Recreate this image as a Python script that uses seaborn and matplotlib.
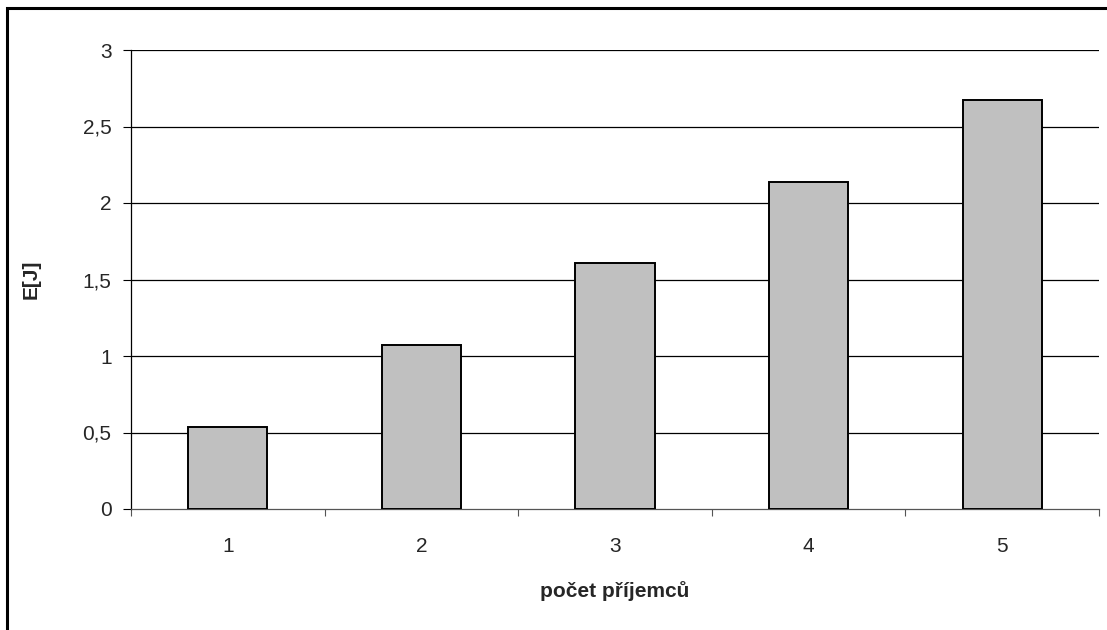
import matplotlib
matplotlib.use("Agg")
import matplotlib.pyplot as plt
import seaborn as sns
import pandas as pd
from matplotlib.patches import Rectangle

categories = ["1", "2", "3", "4", "5"]
energy = [0.535, 1.07, 1.605, 2.14, 2.675]
y_ticks = [0, 0.5, 1, 1.5, 2, 2.5, 3]
y_tick_labels = ["0", "0,5", "1", "1,5", "2", "2,5", "3"]

sns.set_theme(style="white")
plt.rcParams['font.family'] = ['Liberation Sans', 'DejaVu Sans']

df = pd.DataFrame({"pocet": categories, "E": energy})

fig = plt.figure(figsize=(11.07, 6.30), dpi=100)
ax = fig.add_axes([131/1107, 1-509/630, (1099-131)/1107, (509-50)/630])

sns.barplot(data=df, x="pocet", y="E", order=categories, color="#C0C0C0",
            saturation=1, width=0.41, edgecolor="black", linewidth=1.4, ax=ax, zorder=3)

ax.set_xlim(-0.5, 4.5)
ax.set_ylim(0, 3)
ax.set_yticks(y_ticks)
ax.set_yticklabels(y_tick_labels, fontsize=15)
ax.tick_params(axis="y", length=6, width=0.8, color="black", pad=8, left=True)
ax.set_xticks(range(len(categories)))
ax.set_xticklabels(categories, fontsize=15)
ax.set_xticks([i - 0.5 for i in range(len(categories) + 1)], minor=True)
ax.tick_params(axis="x", which="major", length=0, pad=20)
ax.tick_params(axis="x", which="minor", length=5, width=0.8, color="#555555", bottom=True)

for v in y_ticks[1:]:
    ax.axhline(v, color="black", linewidth=0.9, zorder=1)

for s in ["top", "right"]:
    ax.spines[s].set_visible(False)
ax.spines["left"].set_color("black")
ax.spines["left"].set_linewidth(0.9)
ax.spines["bottom"].set_color("#555555")
ax.spines["bottom"].set_linewidth(0.9)
ax.set_facecolor("white")

ax.set_xlabel("počet příjemců", fontsize=15, fontweight="bold", labelpad=18)
ax.set_ylabel("E[J]", fontsize=15, fontweight="bold", labelpad=30)

fig.patches.append(Rectangle((7/1107, -0.1), 1.2, 1 - 8/630 + 0.1, transform=fig.transFigure,
                             fill=False, edgecolor="black", linewidth=2.2))

fig.savefig("out.png", dpi=100, facecolor="white")
